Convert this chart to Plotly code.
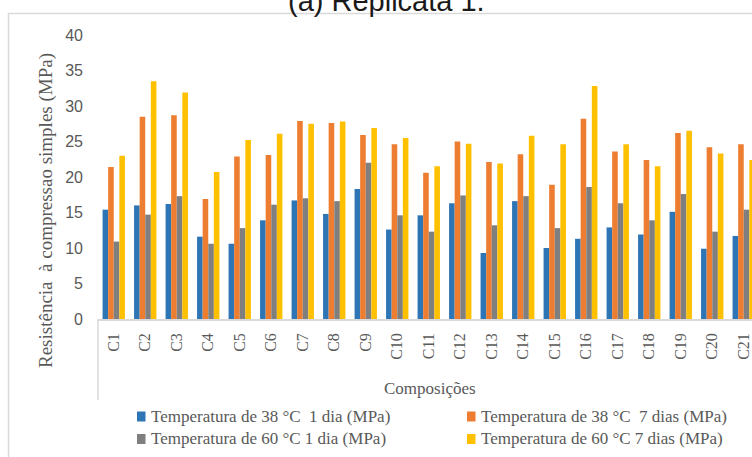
import plotly.graph_objects as go

# Composições C1..C21
categorias = [f"C{i}" for i in range(1, 22)]

# Resistência à compressão simples (MPa)
t38_1dia = [15.4, 16.0, 16.2, 11.6, 10.6, 13.9, 16.7, 14.8, 18.3, 12.6, 14.6,
            16.3, 9.3, 16.6, 10.0, 11.3, 12.9, 11.9, 15.1, 9.9, 11.7]
t38_7dias = [21.4, 28.5, 28.7, 16.9, 22.9, 23.1, 27.9, 27.6, 25.9, 24.6, 20.6,
             25.0, 22.1, 23.2, 18.9, 28.2, 23.6, 22.4, 26.2, 24.2, 24.6]
t60_1dia = [10.9, 14.7, 17.3, 10.6, 12.8, 16.1, 17.0, 16.6, 22.0, 14.6, 12.3,
            17.4, 13.2, 17.3, 12.8, 18.6, 16.3, 13.9, 17.6, 12.3, 15.4]
t60_7dias = [23.0, 33.5, 31.9, 20.7, 25.2, 26.1, 27.5, 27.8, 26.9, 25.5, 21.5,
             24.7, 21.9, 25.8, 24.6, 32.8, 24.6, 21.5, 26.5, 23.3, 22.4]

series = [
    ("Temperatura de 38 °C  1 dia (MPa)", t38_1dia, "#2E75B6"),
    ("Temperatura de 38 °C  7 dias (MPa)", t38_7dias, "#ED7D31"),
    ("Temperatura de 60 °C 1 dia (MPa)", t60_1dia, "#7F7F7F"),
    ("Temperatura de 60 °C 7 dias (MPa)", t60_7dias, "#FFC000"),
]

W, H = 752, 457
ML, MR, MT, MB = 98, 0, 35, 138
PW, PH = W - ML - MR, H - MT - MB


def px(x):
    return (x - ML) / PW


def py(y):
    return (H - MB - y) / PH


SERIF = "Liberation Serif, Times New Roman, serif"
SANS = "Liberation Sans, Arial, sans-serif"
GREY = "#595959"

fig = go.Figure()
for nome, valores, cor in series:
    fig.add_trace(go.Bar(x=categorias, y=valores, name=nome,
                         marker=dict(color=cor, line=dict(width=0)),
                         showlegend=False))

shapes = [
    # chart frame
    dict(type="rect", xref="paper", yref="paper",
         x0=px(8.5), y0=py(13.5), x1=px(900), y1=py(600),
         line=dict(color="#D9D9D9", width=1.5), fillcolor="rgba(0,0,0,0)",
         layer="below"),
    # category axis left boundary
    dict(type="line", xref="paper", yref="paper",
         x0=0, y0=0, x1=0, y1=py(400),
         line=dict(color="#D9D9D9", width=1.5)),
]

annotations = [
    dict(text="(a) Replicata 1.", xref="paper", yref="paper",
         x=px(386.5), y=py(1), xanchor="center", yanchor="middle",
         showarrow=False, font=dict(family=SANS, size=29, color="#1a1a1a")),
    dict(text="Resistência  à compressao simples (MPa)", xref="paper", yref="paper",
         x=px(46), y=py(211), xanchor="center", yanchor="middle", textangle=-90,
         showarrow=False, font=dict(family=SERIF, size=19, color=GREY)),
    dict(text="Composições", xref="paper", yref="paper",
         x=px(429.5), y=py(388), xanchor="center", yanchor="middle",
         showarrow=False, font=dict(family=SERIF, size=17, color=GREY)),
]

# legend: two columns, two rows
leg_pos = [(137, 416.5), (467, 416.5), (137, 439), (467, 439)]
for (nome, _, cor), (lx, ly) in zip(series, leg_pos):
    shapes.append(dict(type="rect", xref="paper", yref="paper",
                       x0=px(lx), x1=px(lx + 8.5), y0=py(ly - 5), y1=py(ly + 5),
                       fillcolor=cor, line=dict(width=0)))
    annotations.append(dict(text=nome, xref="paper", yref="paper",
                            x=px(lx + 12), y=py(ly), xanchor="left", yanchor="middle",
                            showarrow=False,
                            font=dict(family=SERIF, size=17, color=GREY)))

fig.update_layout(
    width=W, height=H,
    margin=dict(l=ML, r=MR, t=MT, b=MB, pad=0),
    paper_bgcolor="white", plot_bgcolor="white",
    barmode="group", bargap=0.29, bargroupgap=0,
    shapes=shapes, annotations=annotations,
    xaxis=dict(range=[-0.5, -0.5 + PW / 31.5], showgrid=False, zeroline=False,
               showline=True, linecolor="#D9D9D9", linewidth=1.5,
               ticks="", tickangle=-90, ticklabelstandoff=6,
               tickfont=dict(family=SERIF, size=16, color=GREY)),
    yaxis=dict(range=[0, 40], dtick=5, showgrid=False, zeroline=False,
               showline=False, ticks="", ticklabelstandoff=14,
               tickfont=dict(family=SANS, size=16, color=GREY)),
)

fig.write_html("out.html")
